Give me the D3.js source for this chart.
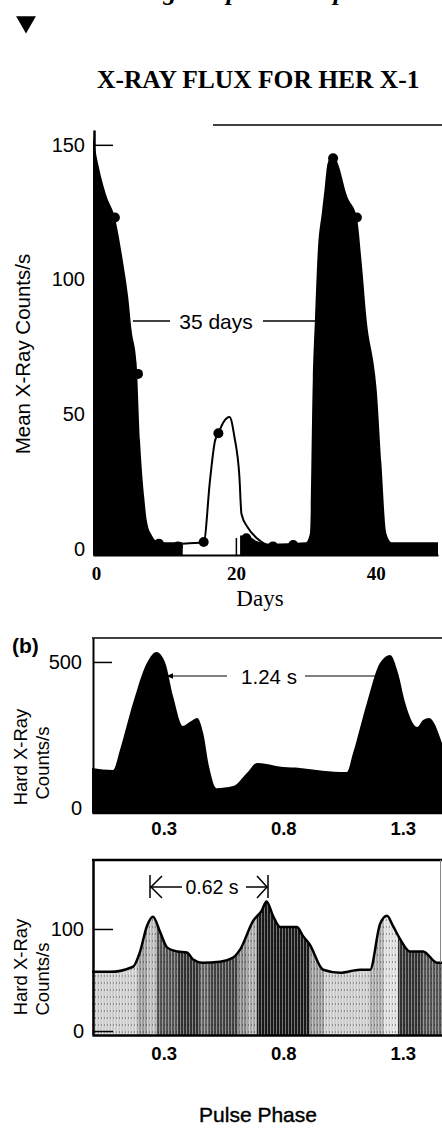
<!DOCTYPE html>
<html>
<head>
<meta charset="utf-8">
<script src="https://cdn.jsdelivr.net/npm/d3@7"></script>
<style>
  body { margin: 0; background: #fff; }
  svg { display: block; }
  .sans { font-family: "Liberation Sans", Arial, sans-serif; }
  .serif { font-family: "Liberation Serif", "Times New Roman", serif; }
</style>
</head>
<body>
<div id="chart"></div>
<script>
// ---- values ----

// (a) mean X-ray counts over the 35 day cycle (null = gap in the black fill)
var cycleDays   = [-0.43, 0.3, 1.5, 2.7, 3.9, 4.6, 5.1, 5.8, 6.3, 6.9, 7.3, 8.0, 9.0, 12.4, 16, 20.6, 21.5, 23, 25, 30, 30.6, 31.0, 31.3, 31.7, 32.3, 32.7, 33.1, 33.9, 34.6, 35.9, 37.3, 38.0, 38.7, 39.9, 40.1, 40.8, 41.5, 42.3, 48.9];
var cycleCounts = [153, 143, 131, 123, 106, 93.5, 81, 69, 40, 19, 10, 5, 2.5, 2.5, null, 5, 5, 3, 2, 2.5, 6, 63, 85, 110, 125, 134, 143, 146.5, 143, 131, 123, 106, 85, 65, 60, 32, 6, 2.5, 2.5];

// short "on" state in the middle of the cycle (outline only)
var shortDays   = [12.4, 15.4, 16.3, 17.0, 17.5, 18.2, 19.1, 19.8, 20.5, 20.8, 21.7, 23.0, 24.4];
var shortCounts = [2, 2.5, 25.6, 40, 43, 47, 49, 41.5, 27, 13, 8, 4, 1.5];

// measured points
var dotDays   = [2.7, 6.0, 9.0, 11.7, 15.4, 17.5, 21.5, 25.3, 28.2, 33.9, 37.3];
var dotCounts = [123, 65, 2, 1, 2.6, 43, 4, 1, 1.5, 145, 123];

var dayTicks = [0, 20, 40];
var meanTicks = [0, 50, 100, 150];

// (b) hard X-ray pulse profile
var phaseB = [0, 0.088, 0.117, 0.172, 0.23, 0.27, 0.305, 0.34, 0.38, 0.41, 0.44, 0.465, 0.49, 0.52, 0.59, 0.648, 0.69, 0.73, 0.8, 0.87, 0.94, 1.038, 1.066, 1.092, 1.15, 1.205, 1.247, 1.28, 1.31, 1.36, 1.385, 1.41, 1.464];
var hardB  = [137, 130, 199, 360, 497, 534, 500, 380, 281, 295, 308, 257, 140, 68, 75, 120, 154, 151, 140, 137, 130, 123, 123, 188, 360, 497, 524, 462, 360, 277, 301, 308, 222];
var hardTicksB = [0, 500];

// lower profile
var phaseC = [0, 0.075, 0.172, 0.2, 0.23, 0.255, 0.285, 0.314, 0.356, 0.397, 0.423, 0.46, 0.535, 0.59, 0.62, 0.674, 0.71, 0.73, 0.757, 0.787, 0.857, 0.883, 0.91, 0.967, 1.038, 1.12, 1.163, 1.205, 1.234, 1.259, 1.289, 1.33, 1.385, 1.443, 1.464];
var hardC  = [58, 58, 63, 77, 103, 112, 97, 82, 78, 77, 70, 67, 68, 72, 80, 108, 118, 127, 113, 102, 102, 93, 85, 60, 57, 60, 60, 105, 113, 103, 90, 78, 78, 67, 67];
var hardTicksC = [0, 100];

// grey shading bands under the lower profile
var shadeStart = [0, 0.19, 0.23, 0.27, 0.36, 0.45, 0.49, 0.61, 0.65, 0.69, 0.91, 0.97, 1.16, 1.22, 1.28, 1.38];
var shadeGray  = ["#cdcdcd", "#9a9a9a", "#bbbbbb", "#555555", "#333333", "#666666", "#444444", "#888888", "#aaaaaa", "#1a1a1a", "#999999", "#cccccc", "#aaaaaa", "#dddddd", "#333333", "#555555"];

var phaseTicks = [0.3, 0.8, 1.3];

// ---- svg ----
var svgWidth = 442;
var svgHeight = 1128;

var svg = d3.select("#chart")
  .append("svg")
  .attr("width", svgWidth)
  .attr("height", svgHeight);

// caption line of the page above, cut off at the top edge
[["g", 170], ["p", 233], ["p", 340]].forEach(function(c) {
  svg.append("text")
    .attr("class", "serif")
    .attr("x", c[1])
    .attr("y", 0)
    .attr("font-size", "26px")
    .attr("font-weight", "bold")
    .attr("font-style", "italic")
    .attr("text-anchor", "middle")
    .text(c[0]);
});

// marker triangle
svg.append("path")
  .attr("d", d3.symbol().type(d3.symbolTriangle).size(170))
  .attr("transform", "translate(26,22) rotate(180)")
  .attr("fill", "#000");

// title + rule
svg.append("text")
  .attr("class", "serif")
  .attr("x", 97)
  .attr("y", 88)
  .attr("font-size", "25.5px")
  .attr("font-weight", "bold")
  .text("X-RAY FLUX FOR HER X-1");

svg.append("line")
  .attr("x1", 213).attr("x2", 442)
  .attr("y1", 125).attr("y2", 125)
  .attr("stroke", "#000")
  .attr("stroke-width", 1.5);

// ================= panel (a) =================
var xA = d3.scaleLinear().domain([-0.43, 48.9]).range([93, 438]);
var yA = d3.scaleLinear().domain([-2.2, 155.5]).range([555, 130]);

var cycle = cycleDays.map(function(d, i) { return {x: d, y: cycleCounts[i]}; });

var areaA = d3.area()
  .defined(d => d.y !== null)
  .x(d => xA(d.x))
  .y0(yA(-2.2))
  .y1(d => yA(d.y))
  .curve(d3.curveMonotoneX);

svg.append("path")
  .datum(cycle)
  .attr("d", areaA)
  .attr("fill", "#000");

var shortOn = shortDays.map(function(d, i) { return {x: d, y: shortCounts[i]}; });

svg.append("path")
  .datum(shortOn)
  .attr("d", d3.line().x(d => xA(d.x)).y(d => yA(d.y)).curve(d3.curveMonotoneX))
  .attr("fill", "none")
  .attr("stroke", "#000")
  .attr("stroke-width", 2);

svg.selectAll(".dotA")
  .data(dotDays)
  .enter()
  .append("circle")
  .attr("class", "dotA")
  .attr("cx", d => xA(d))
  .attr("cy", (d, i) => yA(dotCounts[i]))
  .attr("r", 5)
  .attr("fill", "#000");

// axes
var yAxisA = svg.append("g")
  .attr("transform", "translate(94,0)")
  .call(d3.axisLeft(yA).tickValues(meanTicks).tickSize(-19).tickSizeOuter(0).tickPadding(9));
yAxisA.select(".domain").attr("stroke-width", 2.5);
yAxisA.selectAll("line").attr("stroke-width", 1.5);
yAxisA.selectAll("text").attr("class", "sans").attr("font-size", "20px").attr("fill", "#000");

var xAxisA = svg.append("g")
  .attr("transform", "translate(0,555)")
  .call(d3.axisBottom(xA).tickValues(dayTicks).tickSize(-17).tickSizeOuter(0).tickPadding(12));
xAxisA.select(".domain").attr("stroke-width", 2);
xAxisA.selectAll("line").attr("stroke-width", 1.5);
xAxisA.selectAll("text").attr("class", "serif").attr("font-size", "19px").attr("font-weight", "bold").attr("fill", "#000");

svg.append("text")
  .attr("class", "serif")
  .attr("x", 260)
  .attr("y", 606)
  .attr("text-anchor", "middle")
  .attr("font-size", "23px")
  .text("Days");

svg.append("text")
  .attr("class", "sans")
  .attr("transform", "rotate(-90)")
  .attr("x", -354)
  .attr("y", 30)
  .attr("text-anchor", "middle")
  .attr("font-size", "20.5px")
  .text("Mean X-Ray Counts/s");

// 35 days annotation
svg.append("line").attr("x1", 133).attr("x2", 170).attr("y1", 321).attr("y2", 321)
  .attr("stroke", "#000").attr("stroke-width", 1.5);
svg.append("line").attr("x1", 263).attr("x2", 315).attr("y1", 321).attr("y2", 321)
  .attr("stroke", "#000").attr("stroke-width", 1.5);
svg.append("text")
  .attr("class", "sans")
  .attr("x", 216)
  .attr("y", 329)
  .attr("text-anchor", "middle")
  .attr("font-size", "21px")
  .text("35 days");

// ================= panel (b) =================
var xP = d3.scaleLinear().domain([0, 1.464]).range([92, 442]);
var yB = d3.scaleLinear().domain([-17.1, 582]).range([813, 638]);

var profB = phaseB.map(function(d, i) { return {x: d, y: hardB[i]}; });

svg.append("path")
  .datum(profB)
  .attr("d", d3.area().x(d => xP(d.x)).y0(yB(-17.1)).y1(d => yB(d.y)).curve(d3.curveMonotoneX))
  .attr("fill", "#000");

svg.append("line")
  .attr("x1", 92).attr("x2", 442)
  .attr("y1", 638).attr("y2", 638)
  .attr("stroke", "#000").attr("stroke-width", 1.5);

var yAxisB = svg.append("g")
  .attr("transform", "translate(93,0)")
  .call(d3.axisLeft(yB).tickValues(hardTicksB).tickSize(-19).tickSizeOuter(0).tickPadding(11));
yAxisB.select(".domain").attr("stroke-width", 2);
yAxisB.selectAll("line").attr("stroke-width", 1.5);
yAxisB.selectAll("text").attr("class", "sans").attr("font-size", "20px").attr("fill", "#000");

var xAxisB = svg.append("g")
  .attr("transform", "translate(0,813)")
  .call(d3.axisBottom(xP).tickValues(phaseTicks).tickSize(0).tickPadding(9).tickFormat(d3.format(".1f")));
xAxisB.select(".domain").attr("stroke-width", 1.5);
xAxisB.selectAll("text").attr("class", "sans").attr("font-size", "18.5px").attr("font-weight", "bold").attr("fill", "#000");

svg.append("text")
  .attr("class", "sans")
  .attr("x", 12)
  .attr("y", 653)
  .attr("font-size", "21px")
  .attr("font-weight", "bold")
  .text("(b)");

svg.append("text")
  .attr("class", "sans")
  .attr("transform", "rotate(-90)")
  .attr("x", -757)
  .attr("y", 27)
  .attr("text-anchor", "middle")
  .attr("font-size", "18.5px")
  .text("Hard X-Ray");
svg.append("text")
  .attr("class", "sans")
  .attr("transform", "rotate(-90)")
  .attr("x", -763)
  .attr("y", 49)
  .attr("text-anchor", "middle")
  .attr("font-size", "18.5px")
  .text("Counts/s");

// 1.24 s annotation
var defs = svg.append("defs");
defs.append("marker")
  .attr("id", "head")
  .attr("viewBox", "0 0 10 10")
  .attr("refX", 9).attr("refY", 5)
  .attr("markerWidth", 6).attr("markerHeight", 6)
  .attr("orient", "auto")
  .append("path")
  .attr("d", "M0,1L10,5L0,9z")
  .attr("fill", "#000");

svg.append("line").attr("x1", 227).attr("x2", 167).attr("y1", 676).attr("y2", 676)
  .attr("stroke", "#000").attr("stroke-width", 1.2).attr("marker-end", "url(#head)");
svg.append("line").attr("x1", 305).attr("x2", 382).attr("y1", 676).attr("y2", 676)
  .attr("stroke", "#000").attr("stroke-width", 1.2).attr("marker-end", "url(#head)");
svg.append("text")
  .attr("class", "sans")
  .attr("x", 269)
  .attr("y", 684)
  .attr("text-anchor", "middle")
  .attr("font-size", "20.5px")
  .text("1.24 s");

// ================= lower profile =================
var yC = d3.scaleLinear().domain([-3.9, 167.6]).range([1035, 860]);

var profC = phaseC.map(function(d, i) { return {x: d, y: hardC[i]}; });
var areaC = d3.area().x(d => xP(d.x)).y0(yC(-3.9)).y1(d => yC(d.y)).curve(d3.curveMonotoneX);

defs.append("clipPath")
  .attr("id", "clipC")
  .append("path")
  .datum(profC)
  .attr("d", areaC);

// fine vertical halftone texture
var stripes = defs.append("pattern")
  .attr("id", "stripes")
  .attr("patternUnits", "userSpaceOnUse")
  .attr("width", 3).attr("height", 7);
stripes.append("rect").attr("x", 0).attr("y", 0).attr("width", 1).attr("height", 7)
  .attr("fill", "#fff").attr("opacity", 0.4);
stripes.append("rect").attr("x", 2).attr("y", 2).attr("width", 1).attr("height", 2)
  .attr("fill", "#000").attr("opacity", 0.3);

var shade = svg.append("g").attr("clip-path", "url(#clipC)");

shade.selectAll(".band")
  .data(shadeStart)
  .enter()
  .append("rect")
  .attr("class", "band")
  .attr("x", d => xP(d))
  .attr("width", (d, i) => xP(i < shadeStart.length - 1 ? shadeStart[i + 1] : 1.464) - xP(d) + 0.5)
  .attr("y", 860)
  .attr("height", 175)
  .attr("fill", (d, i) => shadeGray[i]);

shade.append("rect")
  .attr("x", 92).attr("y", 860)
  .attr("width", 350).attr("height", 175)
  .attr("fill", "url(#stripes)");

svg.append("path")
  .datum(profC)
  .attr("d", d3.line().x(d => xP(d.x)).y(d => yC(d.y)).curve(d3.curveMonotoneX))
  .attr("fill", "none")
  .attr("stroke", "#000")
  .attr("stroke-width", 2.5);

svg.append("line")
  .attr("x1", 92).attr("x2", 442)
  .attr("y1", 860).attr("y2", 860)
  .attr("stroke", "#000").attr("stroke-width", 2.5);
svg.append("line")
  .attr("x1", 440.5).attr("x2", 440.5)
  .attr("y1", 860).attr("y2", yC(67))
  .attr("stroke", "#888").attr("stroke-width", 1);

var yAxisC = svg.append("g")
  .attr("transform", "translate(93,0)")
  .call(d3.axisLeft(yC).tickValues(hardTicksC).tickSize(-20).tickSizeOuter(0).tickPadding(9));
yAxisC.select(".domain").attr("stroke-width", 2.5);
yAxisC.selectAll("line").attr("stroke-width", 1.5);
yAxisC.selectAll("text").attr("class", "sans").attr("font-size", "20px").attr("fill", "#000");

var xAxisC = svg.append("g")
  .attr("transform", "translate(0,1035)")
  .call(d3.axisBottom(xP).tickValues(phaseTicks).tickSize(0).tickPadding(12).tickFormat(d3.format(".1f")));
xAxisC.select(".domain").attr("stroke-width", 2.5);
xAxisC.selectAll("text").attr("class", "sans").attr("font-size", "18.5px").attr("font-weight", "bold").attr("fill", "#000");

svg.append("text")
  .attr("class", "sans")
  .attr("transform", "rotate(-90)")
  .attr("x", -967)
  .attr("y", 27)
  .attr("text-anchor", "middle")
  .attr("font-size", "18.5px")
  .text("Hard X-Ray");
svg.append("text")
  .attr("class", "sans")
  .attr("transform", "rotate(-90)")
  .attr("x", -979)
  .attr("y", 49)
  .attr("text-anchor", "middle")
  .attr("font-size", "18.5px")
  .text("Counts/s");

// 0.62 s annotation: bar, arrow, text, arrow, bar
var ann = svg.append("g").attr("stroke", "#000").attr("stroke-width", 1.5).attr("fill", "none");
ann.append("line").attr("x1", 150).attr("x2", 150).attr("y1", 875).attr("y2", 898);
ann.append("line").attr("x1", 150).attr("x2", 182).attr("y1", 887).attr("y2", 887);
ann.append("path").attr("d", "M162,876L151,887L162,898");
ann.append("line").attr("x1", 268).attr("x2", 268).attr("y1", 875).attr("y2", 898);
ann.append("line").attr("x1", 246).attr("x2", 268).attr("y1", 887).attr("y2", 887);
ann.append("path").attr("d", "M257,876L267,887L257,898");

svg.append("text")
  .attr("class", "sans")
  .attr("x", 212)
  .attr("y", 894)
  .attr("text-anchor", "middle")
  .attr("font-size", "19.5px")
  .text("0.62 s");

svg.append("text")
  .attr("class", "sans")
  .attr("x", 258)
  .attr("y", 1122)
  .attr("text-anchor", "middle")
  .attr("font-size", "21px")
  .attr("stroke", "#000")
  .attr("stroke-width", 0.4)
  .text("Pulse Phase");
</script>
</body>
</html>
